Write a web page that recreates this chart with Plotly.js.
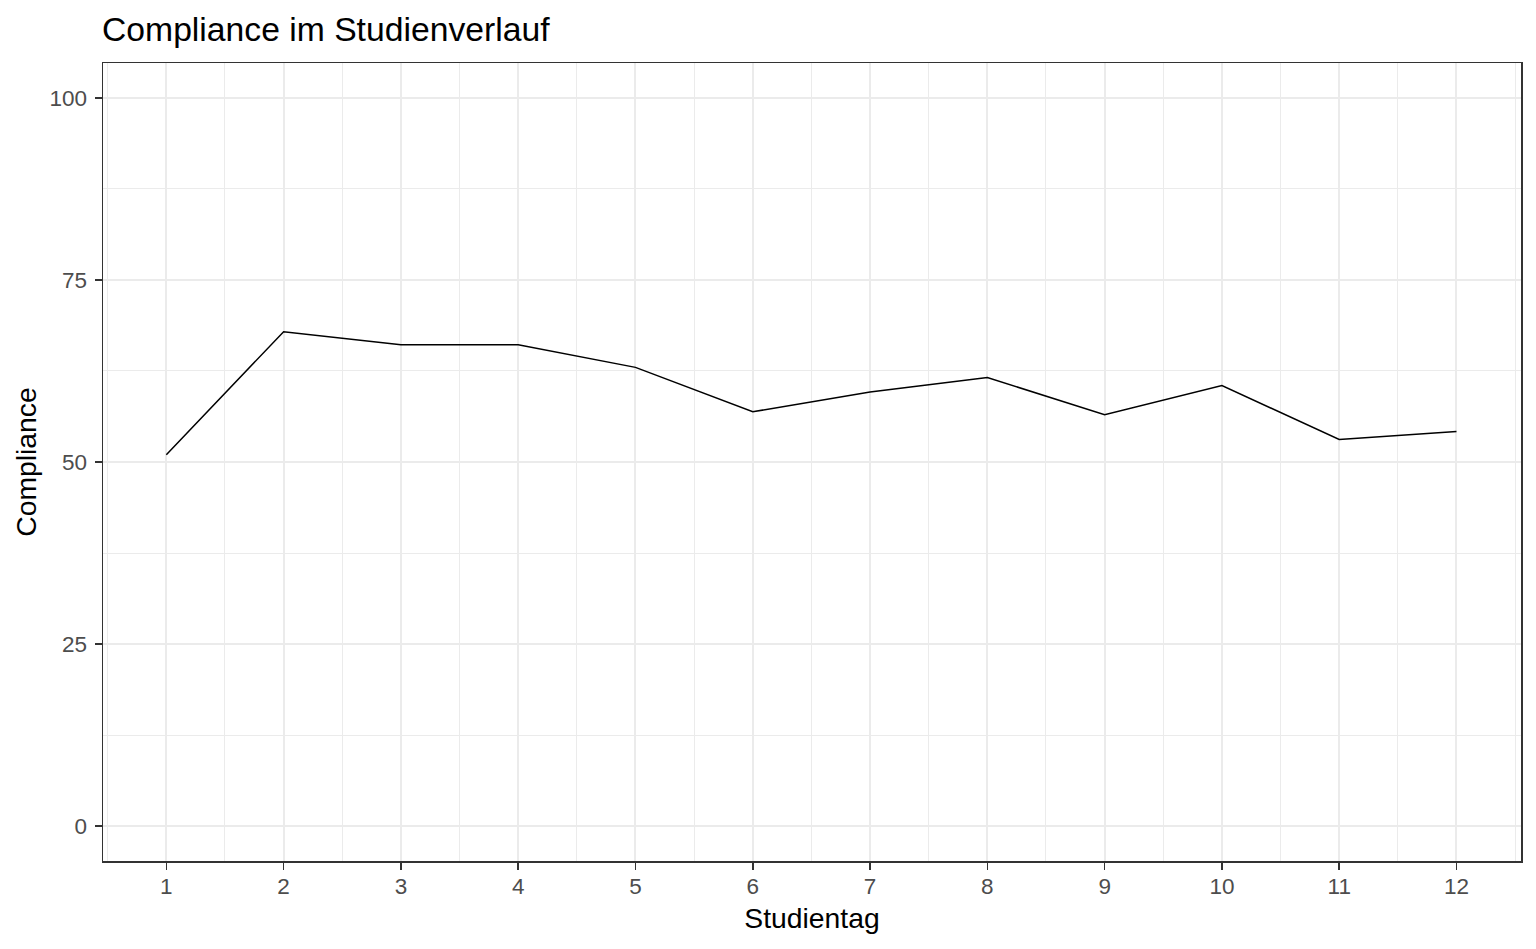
<!DOCTYPE html>
<html>
<head>
<meta charset="utf-8">
<script src="https://cdn.plot.ly/plotly-3.0.1.min.js"></script>
<style>html,body{margin:0;padding:0;background:#fff;}#chart{width:1536px;height:949px;}</style>
</head>
<body>
<div id="chart"></div>
<script>
const studientag = [1, 2, 3, 4, 5, 6, 7, 8, 9, 10, 11, 12];
const compliance = [51.0, 67.9, 66.1, 66.1, 63.0, 56.9, 59.6, 61.6, 56.5, 60.5, 53.1, 54.2];
const xTicks = [1, 2, 3, 4, 5, 6, 7, 8, 9, 10, 11, 12];
const yTicks = [0, 25, 50, 75, 100];

const font = 'Liberation Sans, Arial, sans-serif';
const trace = {
  x: studientag, y: compliance, type: 'scatter', mode: 'lines',
  line: {color: '#000000', width: 1.5}, hoverinfo: 'x+y', showlegend: false
};
const layout = {
  width: 1536, height: 949,
  margin: {l: 103, r: 15, t: 63, b: 88},
  paper_bgcolor: '#ffffff', plot_bgcolor: '#ffffff',
  font: {family: font, color: '#000'},
  title: {text: 'Compliance im Studienverlauf', x: 102/1536, xref: 'container', xanchor: 'left',
          y: 1 - 29/949, yref: 'container', yanchor: 'middle', font: {size: 33.7, color: '#000', family: font}},
  xaxis: {
    range: [0.46, 12.55], tickvals: xTicks, ticktext: xTicks.map(String),
    showgrid: true, gridcolor: '#EBEBEB', gridwidth: 2,
    minor: {dtick: 0.5, tick0: 0.5, showgrid: true, gridcolor: '#EBEBEB', gridwidth: 1, ticks: ''},
    zeroline: false, showline: true, linecolor: '#333333', linewidth: 1.5, mirror: true,
    ticks: 'outside', ticklen: 7, tickwidth: 1.5, tickcolor: '#333333',
    tickfont: {size: 22.5, color: '#4D4D4D', family: font}, ticklabelstandoff: -3,
    title: {text: 'Studientag', font: {size: 28.3, color: '#000', family: font}, standoff: 10}
  },
  yaxis: {
    range: [-4.8, 104.8], tickvals: yTicks, ticktext: yTicks.map(String),
    showgrid: true, gridcolor: '#EBEBEB', gridwidth: 2,
    minor: {dtick: 12.5, tick0: 12.5, showgrid: true, gridcolor: '#EBEBEB', gridwidth: 1, ticks: ''},
    zeroline: false, showline: true, linecolor: '#333333', linewidth: 1.5, mirror: true,
    ticks: 'outside', ticklen: 7, tickwidth: 1.5, tickcolor: '#333333',
    tickfont: {size: 22.5, color: '#4D4D4D', family: font}, ticklabelstandoff: 3,
    title: {text: 'Compliance', font: {size: 28.3, color: '#000', family: font}, standoff: 4}
  }
};
Plotly.newPlot('chart', [trace], layout, {displayModeBar: false, staticPlot: true});
</script>
</body>
</html>
